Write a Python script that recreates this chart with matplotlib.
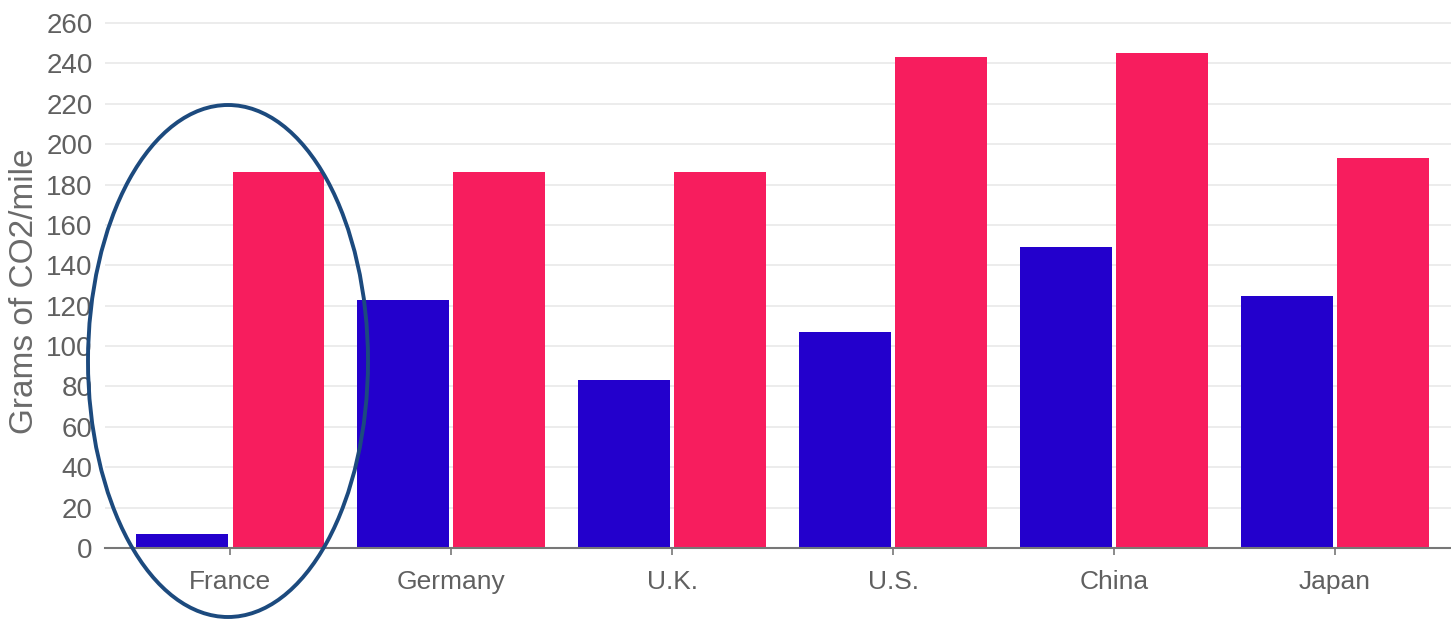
import matplotlib
matplotlib.use("Agg")
import matplotlib.pyplot as plt
from matplotlib.patches import Ellipse
import numpy as np

countries = ["France", "Germany", "U.K.", "U.S.", "China", "Japan"]
blue_values = [7, 123, 83, 107, 149, 125]
red_values = [186, 186, 186, 243, 245, 193]
yticks = list(range(0, 261, 20))

plt.rcParams['font.family'] = ['Liberation Sans', 'DejaVu Sans']

W, H = 1451, 620
fig = plt.figure(figsize=(W / 100, H / 100), dpi=100)
left_px, right_px, bottom_px, top_px = 105, 1451, 548, 20
ax = fig.add_axes([left_px / W, (H - bottom_px) / H,
                   (right_px - left_px) / W, (bottom_px - top_px) / H])

x = np.arange(len(countries))
w = 0.415
gap = 0.011
ax.bar(x - gap - w / 2, blue_values, width=w, color="#2300CC", zorder=3)
ax.bar(x + gap + w / 2, red_values, width=w, color="#F71D5E", zorder=3)

ax.set_xlim(-0.566, 5.525)
ax.set_ylim(0, 260 * 528 / 525)
ax.set_yticks(yticks)
ax.set_yticklabels([str(t) for t in yticks])
ax.set_xticks(x)
ax.set_xticklabels(countries)

ax.grid(axis="y", color="#ebebeb", linewidth=1.3, zorder=0)
for s in ["top", "right", "left"]:
    ax.spines[s].set_visible(False)
ax.spines["bottom"].set_color("#777777")
ax.spines["bottom"].set_linewidth(1.5)
ax.spines["bottom"].set_zorder(4)

ax.tick_params(axis="y", length=0, pad=9, labelsize=20, labelcolor="#606060")
ax.tick_params(axis="x", length=5, width=1.2, color="#777777", pad=11,
               labelsize=19, labelcolor="#606060")
ax.set_ylabel("Grams of CO2/mile", fontsize=24, color="#6a6a6a")
ax.yaxis.set_label_coords((40 - left_px) / (right_px - left_px), 0.487)

ell = Ellipse((228 / W, (H - 361) / H), 280 / W, 512 / H,
              transform=fig.transFigure, fill=False,
              edgecolor="#1C4A7E", linewidth=2.8, zorder=10)
fig.patches.append(ell)

fig.savefig("out.png", dpi=100)
